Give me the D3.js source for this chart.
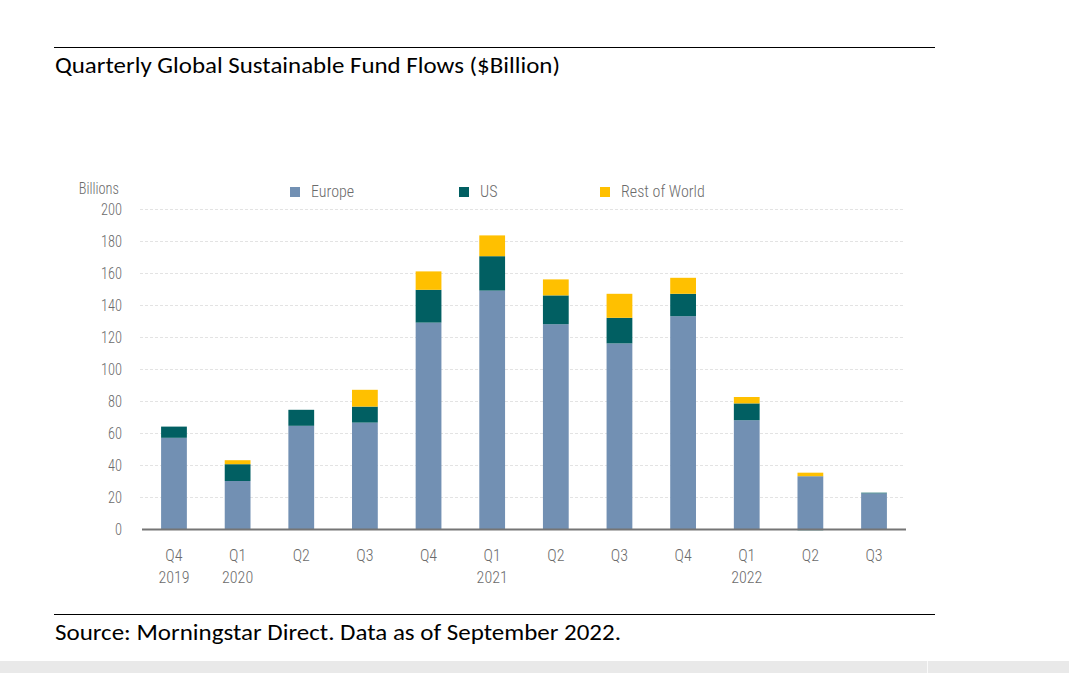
<!DOCTYPE html>
<html><head><meta charset="utf-8">
<script src="https://cdn.jsdelivr.net/npm/d3@7"></script>
<style>
html,body{margin:0;padding:0;background:#fff;}
svg{display:block;}
</style></head>
<body>
<svg id="c" width="1069" height="673"></svg>
<script>
const quarters = ["Q4","Q1","Q2","Q3","Q4","Q1","Q2","Q3","Q4","Q1","Q2","Q3"];
const years    = ["2019","2020","","","","2021","","","","2022","",""];
const europe   = [57, 30, 64.5, 66.5, 129, 149, 128, 116, 133, 68, 33, 22.3];
const us       = [7, 10.5, 10, 10, 20.5, 21.5, 18, 16, 14, 10.5, -0.8, 0.4];
const rest     = [-0.4, 2.5, -0.4, 10.5, 11.5, 13, 10, 15, 10, 4, 2.2, -0.4];
const seriesNames = ["Europe","US","Rest of World"];
const colors = ["#7290B3","#015F62","#FFC000"];
const yTicks = [0,20,40,60,80,100,120,140,160,180,200];

const svg = d3.select("#c");
const narrow = "'Roboto Condensed','Liberation Sans Narrow','Roboto',sans-serif";
const bodyFont = "Carlito,Calibri,'Liberation Sans Narrow','Liberation Sans',sans-serif";

// frame lines
svg.append("line").attr("x1",54).attr("x2",935).attr("y1",47.5).attr("y2",47.5).attr("stroke","#000").attr("stroke-width",1.2);
svg.append("line").attr("x1",54).attr("x2",935).attr("y1",614.5).attr("y2",614.5).attr("stroke","#000").attr("stroke-width",1.2);
svg.append("text").attr("x",55).attr("y",73).attr("font-family",bodyFont)
  .attr("font-size",22).attr("fill","#000").attr("textLength",505).attr("lengthAdjust","spacingAndGlyphs")
  .text("Quarterly Global Sustainable Fund Flows ($Billion)");
svg.append("text").attr("x",55).attr("y",640).attr("font-family",bodyFont)
  .attr("font-size",22).attr("fill","#000").attr("textLength",566).attr("lengthAdjust","spacingAndGlyphs")
  .text("Source: Morningstar Direct. Data as of September 2022.");
svg.append("rect").attr("x",0).attr("y",661).attr("width",1069).attr("height",12).attr("fill","#e9e9e9");
svg.append("line").attr("x1",927.5).attr("x2",927.5).attr("y1",661).attr("y2",673).attr("stroke","#fafafa");

const x = d3.scaleBand().domain(d3.range(quarters.length)).range([142,906]).paddingInner(0.595).paddingOuter(0.3);
const y = d3.scaleLinear().domain([0,200]).range([529,209]);

// grid
svg.append("g").selectAll("line").data(yTicks.filter(d=>d>0)).join("line")
  .attr("x1",140).attr("x2",905).attr("y1",d=>y(d)+0.5).attr("y2",d=>y(d)+0.5)
  .attr("stroke","#e3e3e3").attr("stroke-dasharray","3,2").attr("stroke-width",1);

// y axis labels
const yAxis = d3.axisLeft(y).tickValues(yTicks).tickSize(0).tickPadding(0);
const gy = svg.append("g").attr("transform","translate(122,0)").call(yAxis);
gy.select(".domain").remove();
gy.selectAll("text").attr("font-family",narrow).attr("font-size",16).attr("font-weight",300)
  .attr("fill","#6b6b6b").attr("dy","0.35em").attr("x",0)
  .attr("transform","scale(0.9,1)");

svg.append("text").attr("x",119).attr("y",194).attr("text-anchor","end").attr("font-family",narrow)
  .attr("font-size",16).attr("font-weight",300).attr("fill","#6b6b6b").text("Billions")
  .attr("transform","translate(11.9,0) scale(0.9,1)");

// stacked data
const rows = quarters.map((q,i)=>({i, Europe:europe[i], US:us[i], "Rest of World":rest[i]}));
const stack = d3.stack().keys(seriesNames).offset(d3.stackOffsetDiverging);
const layers = stack(rows);
svg.append("g").selectAll("g").data(layers).join("g").attr("fill",(d,k)=>colors[k])
  .selectAll("rect").data(d=>d).join("rect")
  .attr("x",d=>x(d.data.i)).attr("width",x.bandwidth())
  .attr("y",d=>y(Math.max(d[0],d[1]))).attr("height",d=>Math.abs(y(d[0])-y(d[1])));

// x axis line
svg.append("line").attr("x1",142).attr("x2",906).attr("y1",529.5).attr("y2",529.5).attr("stroke","#757575").attr("stroke-width",2);

// x labels
const xl = svg.append("g");
xl.selectAll("text.q").data(quarters).join("text").attr("class","q")
  .attr("x",(d,i)=>x(i)+x.bandwidth()/2).attr("y",561).attr("text-anchor","middle")
  .attr("font-family",narrow).attr("font-size",16).attr("font-weight",300).attr("fill","#6b6b6b").text(d=>d);
xl.selectAll("text.yr").data(years).join("text").attr("class","yr")
  .attr("x",(d,i)=>x(i)+x.bandwidth()/2).attr("y",583).attr("text-anchor","middle")
  .attr("font-family",narrow).attr("font-size",16).attr("font-weight",300).attr("fill","#6b6b6b").text(d=>d);

// legend
const legX = [290,459,600];
const lg = svg.append("g").selectAll("g").data(seriesNames).join("g")
  .attr("transform",(d,i)=>`translate(${legX[i]},187)`);
lg.append("rect").attr("width",10).attr("height",10).attr("fill",(d,i)=>colors[i]);
lg.append("text").attr("x",21).attr("y",10).attr("font-family",narrow).attr("font-size",16)
  .attr("font-weight",300).attr("fill","#6b6b6b").text(d=>d);
</script>
</body></html>
